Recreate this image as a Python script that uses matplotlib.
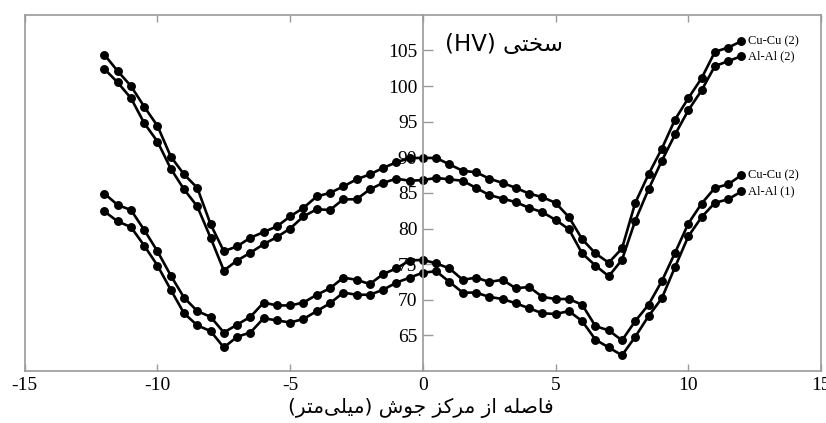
import numpy as np
import matplotlib
matplotlib.use("Agg")
import matplotlib.pyplot as plt

# distance from the weld centre (mm), one reading every 0.5 mm
x = np.arange(-12, 12.5, 0.5)

# hardness (HV), left to right
cu_top = [104.4, 102.1, 100.0, 97.1, 94.4, 90.1, 87.6, 85.7, 80.6, 76.8,
          77.5, 78.7, 79.5, 80.3, 81.7, 82.9, 84.5, 85.0, 85.9, 86.9,
          87.6, 88.5, 89.3, 89.9, 89.9, 89.9, 89.0, 88.1, 87.9, 87.0,
          86.4, 85.7, 84.9, 84.4, 83.6, 81.6, 78.5, 76.5, 75.2, 77.2,
          83.6, 87.6, 91.2, 95.3, 98.3, 101.1, 104.8, 105.4, 106.3]
al_top = [102.4, 100.5, 98.3, 94.8, 92.2, 88.4, 85.5, 83.1, 78.7, 74.1,
          75.5, 76.6, 77.8, 78.8, 80.0, 81.7, 82.7, 82.6, 84.1, 84.1,
          85.5, 86.4, 87.0, 86.7, 86.8, 87.1, 86.9, 86.7, 85.7, 84.7,
          84.2, 83.7, 82.9, 82.3, 81.2, 79.9, 76.5, 74.8, 73.3, 75.6,
          81.1, 85.5, 89.5, 93.2, 96.6, 99.4, 102.8, 103.5, 104.2]
cu_bot = [84.9, 83.3, 82.6, 79.8, 76.8, 73.4, 70.3, 68.4, 67.6, 65.4,
          66.5, 67.6, 69.6, 69.2, 69.2, 69.6, 70.7, 71.6, 73.1, 72.8,
          72.2, 73.6, 74.4, 75.5, 75.6, 75.1, 74.4, 72.8, 73.1, 72.5,
          72.8, 71.6, 71.8, 70.4, 70.1, 70.1, 69.3, 66.3, 65.7, 64.3,
          67.0, 69.3, 72.6, 76.6, 80.7, 83.5, 85.7, 86.2, 87.5]
al_bot = [82.4, 81.0, 80.2, 77.6, 74.8, 71.4, 68.1, 66.4, 65.6, 63.3,
          64.8, 65.4, 67.4, 67.1, 66.8, 67.3, 68.4, 69.5, 71.0, 70.7,
          70.7, 71.4, 72.4, 73.1, 73.8, 74.0, 72.5, 71.0, 71.0, 70.4,
          70.1, 69.5, 68.8, 68.1, 68.0, 68.4, 67.0, 64.4, 63.3, 62.2,
          64.8, 67.7, 70.2, 74.6, 78.9, 81.6, 83.6, 84.1, 85.2]

series = [cu_top, al_top, cu_bot, al_bot]
series_labels = ["Cu-Cu (2)", "Al-Al (2)", "Cu-Cu (2)", "Al-Al (1)"]

x_ticks = [-15, -10, -5, 0, 5, 10, 15]
y_ticks = [65, 70, 75, 80, 85, 90, 95, 100, 105]

ylabel_fa = "سختی"
xlabel_fa = "فاصله از مرکز جوش (میلی\u200cمتر)"

# matplotlib does no arabic shaping, so pick the presentation forms by hand
# (isolated, final, initial, medial)
forms = {
    "ا": ("\uFE8D", "\uFE8E", None, None),
    "ت": ("\uFE95", "\uFE96", "\uFE97", "\uFE98"),
    "ج": ("\uFE9D", "\uFE9E", "\uFE9F", "\uFEA0"),
    "خ": ("\uFEA5", "\uFEA6", "\uFEA7", "\uFEA8"),
    "ر": ("\uFEAD", "\uFEAE", None, None),
    "ز": ("\uFEAF", "\uFEB0", None, None),
    "س": ("\uFEB1", "\uFEB2", "\uFEB3", "\uFEB4"),
    "ش": ("\uFEB5", "\uFEB6", "\uFEB7", "\uFEB8"),
    "ص": ("\uFEB9", "\uFEBA", "\uFEBB", "\uFEBC"),
    "ف": ("\uFED1", "\uFED2", "\uFED3", "\uFED4"),
    "ل": ("\uFEDD", "\uFEDE", "\uFEDF", "\uFEE0"),
    "م": ("\uFEE1", "\uFEE2", "\uFEE3", "\uFEE4"),
    "ه": ("\uFEE9", "\uFEEA", "\uFEEB", "\uFEEC"),
    "و": ("\uFEED", "\uFEEE", None, None),
    "ک": ("\uFB8E", "\uFB8F", "\uFB90", "\uFB91"),
    "ی": ("\uFBFC", "\uFBFD", "\uFBFE", "\uFBFF"),
}


def shape(text):
    out = []
    for i, c in enumerate(text):
        if c not in forms:
            out.append(c)
            continue
        prev = text[i - 1] if i > 0 else ""
        nxt = text[i + 1] if i + 1 < len(text) else ""
        join_prev = prev in forms and forms[prev][2] is not None
        join_next = forms[c][2] is not None and nxt in forms
        iso, fin, ini, med = forms[c]
        if join_prev and join_next:
            out.append(med)
        elif join_prev:
            out.append(fin)
        elif join_next:
            out.append(ini)
        else:
            out.append(iso)
    s = "".join(out).replace("\u200c", "")[::-1]
    return s.translate(str.maketrans("()", ")("))


fig = plt.figure(figsize=(8.26, 4.23), dpi=100)
ax = fig.add_axes([0.030, 0.123, 0.964, 0.842])

for vals, lab in zip(series, series_labels):
    ax.plot(x, vals, color="black", lw=1.9, marker="o", ms=5.4)
    ax.annotate(lab, (x[-1], vals[-1]), xytext=(5, 0), textcoords="offset points",
                va="center", ha="left", fontsize=9, family="Liberation Serif")

ax.set_xlim(-15, 15)
ax.set_ylim(60, 110)

# y axis sits on x = 0, keep a box around the plot
frame_col = "#9a9a9a"
for s in ["top", "bottom", "right", "left"]:
    ax.spines[s].set_color(frame_col)
    ax.spines[s].set_linewidth(1.2)
ax.spines["left"].set_position(("data", 0))
ax.plot([0, 0], [0, 1], transform=ax.transAxes, color=frame_col, lw=1.2, clip_on=False)

ax.set_xticks(x_ticks)
ax.set_xticklabels([str(t) for t in x_ticks], family="Liberation Serif", fontsize=14)
ax.set_yticks(y_ticks)
ax.set_yticklabels([str(t) for t in y_ticks], family="Liberation Serif", fontsize=14)
ax.tick_params(axis="x", direction="in", length=5, width=1, color=frame_col,
               top=True, pad=4)
ax.tick_params(axis="y", direction="in", length=7, width=1, color=frame_col, pad=4)

ax.text(0.528, 0.916, "(HV) " + shape(ylabel_fa), transform=ax.transAxes,
        ha="left", va="center", fontsize=16.5, family=["DejaVu Sans"])
fig.text(0.51, 0.035, shape(xlabel_fa), ha="center", va="center",
         fontsize=14.5, family=["DejaVu Sans"])

plt.savefig("out.png", dpi=100)
